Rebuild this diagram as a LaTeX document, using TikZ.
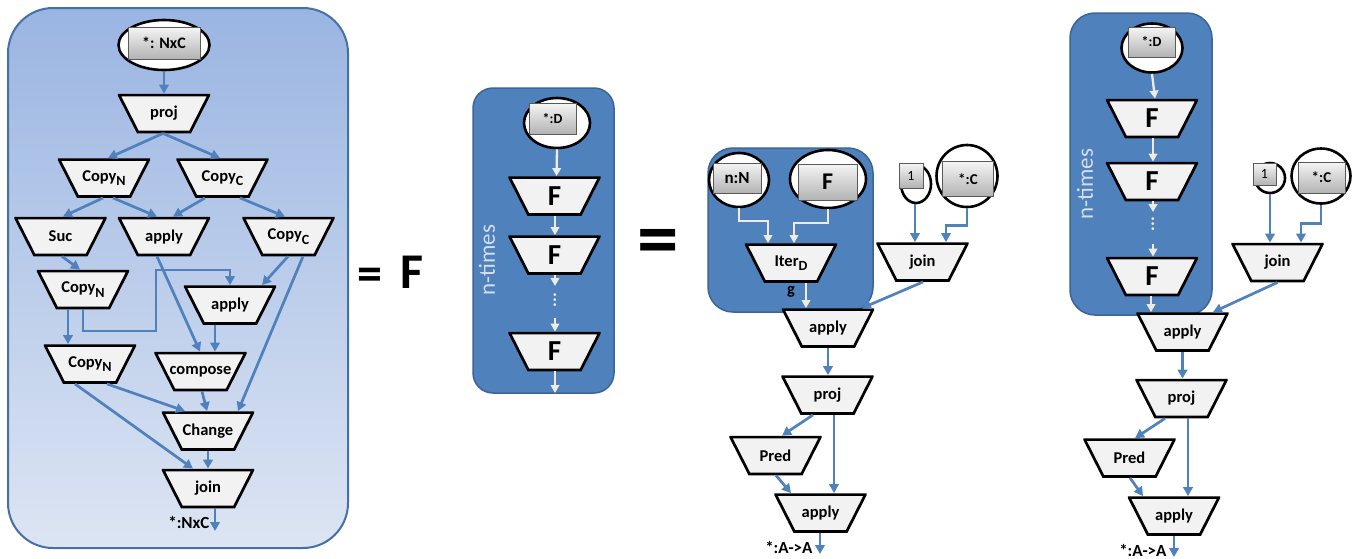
\documentclass[tikz,border=0pt]{standalone}
\usepackage{fontspec}
\setmainfont{Carlito}
\usetikzlibrary{shapes.geometric,arrows.meta}
\definecolor{lineblue}{HTML}{4F81BD}
\definecolor{cream}{HTML}{EEECE1}
\definecolor{panelblue}{HTML}{4F81BD}
\definecolor{panelborder}{HTML}{3C6496}
\definecolor{leftborder}{HTML}{4470A5}
\definecolor{lefttop}{HTML}{9AB5E2}
\definecolor{leftbot}{HTML}{DDE5F3}
\definecolor{trapfill}{HTML}{F2F2F2}
\definecolor{ntimes}{HTML}{D5DEEC}
\newcommand\trapfont{\fontsize{16.5}{18}\selectfont\bfseries}
\newcommand\lowsub[1]{\raisebox{-4.5pt}{\fontsize{14}{14}\selectfont #1}}
\tikzset{
  trap/.style={rectangle, inner sep=0pt, minimum width=92.4pt, minimum height=39.4pt, font=\trapfont,
    path picture={\draw[line width=2.7pt, fill=trapfill]
      ([shift={(1.3pt,-1.3pt)}]path picture bounding box.north west) --
      ([shift={(-1.3pt,-1.3pt)}]path picture bounding box.north east) --
      ([shift={(-20pt,1.3pt)}]path picture bounding box.south east) --
      ([shift={(20pt,1.3pt)}]path picture bounding box.south west) -- cycle;}},
  bigF/.style={font=\fontsize{29}{31}\selectfont\bfseries},
  inell/.style={ellipse, draw=black, line width=2.6pt, fill=white, inner sep=0pt},
  btn/.style={rectangle, draw=black!65, line width=0.8pt, top color=black!4, bottom color=black!30, inner sep=0pt},
  bl/.style={draw=lineblue, line width=2.7pt, -{Triangle[length=9pt,width=9.5pt]}},
  cr/.style={draw=cream, line width=2.3pt, -{Triangle[length=8pt,width=8.5pt]}},
  ntext/.style={rotate=90, text=ntimes, font=\fontsize{23}{25}\selectfont},
  outlab/.style={anchor=base east, font=\fontsize{17}{19}\selectfont\bfseries},
  dotsn/.style={rotate=90, text=cream, font=\fontsize{18}{20}\selectfont\bfseries}
}
\begin{document}
\begin{tikzpicture}[x=1pt,y=-1pt]
\useasboundingbox (0,0) rectangle (1356,558);
% ---------------- left panel ----------------
\draw[rounded corners=45pt, top color=lefttop, bottom color=leftbot, draw=leftborder, line width=2pt] (8,8) rectangle (348,548);
\node[inell, minimum width=91pt, minimum height=50pt] (inA) at (164,45) {};
\node[btn, minimum width=72pt, minimum height=32pt, font=\fontsize{16}{18}\selectfont\bfseries] (inAb) at (164,43) {*: NxC};
\node[trap] (proj) at (164,113.5) {proj};
\node[trap] (cn1) at (104,178) {Copy\lowsub{N}};
\node[trap] (cc1) at (222.5,178) {Copy\lowsub{C}};
\node[trap] (suc) at (60.5,236.5) {Suc};
\node[trap] (ap1) at (164,236.5) {apply};
\node[trap] (cc2) at (288.5,236.5) {Copy\lowsub{C}};
\node[trap] (cn2) at (83,289.5) {Copy\lowsub{N}};
\node[trap] (ap2) at (230,305) {apply};
\node[trap] (cn3) at (90,364) {Copy\lowsub{N}};
\node[trap] (comp) at (200.5,371.5) {compose};
\node[trap] (chg) at (208,431) {Change};
\node[trap] (join) at (208,488.5) {join};
\coordinate (e1) at (156,331);
\coordinate (e2) at (156,270);
\coordinate (oA) at (215,531);
\draw[bl] (inA.south) -- (proj.north);
\draw[bl] ([xshift=-1pt]proj.south) -- ([xshift=4pt]cn1.north);
\draw[bl] ([xshift=-1pt]proj.south) -- ([xshift=-2.5pt]cc1.north);
\draw[bl] ([xshift=-1pt]cn1.south) -- ([xshift=2.5pt]suc.north);
\draw[bl] ([xshift=9pt]cn1.south) -- ([xshift=-7pt]ap1.north);
\draw[bl] ([xshift=-17.5pt]cc1.south) -- ([xshift=9pt]ap1.north);
\draw[bl] ([xshift=17.5pt]cc1.south) -- ([xshift=-3.5pt]cc2.north);
\draw[bl] ([xshift=1.5pt]suc.south) -- ([xshift=-3pt]cn2.north);
\draw[bl] ([xshift=-7pt]ap1.south) -- ([xshift=-0.5pt]comp.north);
\draw[bl] ([xshift=-0.5pt]cc2.south) -- ([xshift=32pt]ap2.north);
\draw[bl] ([xshift=14.5pt]cc2.south) -- ([xshift=30pt]chg.north);
\draw[bl] ([xshift=-15pt]cn2.south) -- ([xshift=-22pt]cn3.north);
\draw[bl] (cn2.south) |- (e1) -- (e2) -| (ap2.north);
\draw[bl] ([xshift=-15pt]ap2.south) -- ([xshift=14.5pt]comp.north);
\draw[bl] ([xshift=17pt]cn3.south) -- ([xshift=-23pt]chg.north);
\draw[bl] ([xshift=-15pt]cn3.south) -- ([xshift=-15pt]join.north);
\draw[bl] ([xshift=1.5pt]comp.south) -- ([xshift=-1pt]chg.north);
\draw[bl] (chg.south) -- (join.north);
\draw[bl] ([xshift=7pt]join.south) -- (oA);
\node[outlab] (labA) at (213,528) {*:NxC};
% ---------------- = F ----------------
\node[anchor=base, font=\fontsize{50}{52}\selectfont\bfseries] (eqA) at (370,290) {=};
\node[anchor=base, font=\fontsize{50}{52}\selectfont\bfseries] (bigFA) at (412,288) {F};
% ---------------- middle panel ----------------
\draw[rounded corners=20pt, fill=panelblue, draw=panelborder, line width=1.5pt] (473,88) rectangle (614,393);
\node[ntext] (ntA) at (487,260) {n-times};
\node[inell, minimum width=66pt, minimum height=50pt] (inD) at (557,123) {};
\node[btn, minimum width=47pt, minimum height=31pt, font=\fontsize{14}{16}\selectfont\bfseries] (inDb) at (552.5,118.5) {*:D};
\node[trap, bigF] (f1) at (554.5,196) {F};
\node[trap, bigF] (f2) at (554.5,255) {F};
\node[trap, bigF] (f3) at (554.5,351.5) {F};
\node[dotsn] (dA) at (555,300) {...};
\coordinate (m1) at (555,286);
\coordinate (m2) at (555,318);
\coordinate (m3) at (555,393);
\draw[cr] (inD.south) -- ([xshift=2pt]f1.north);
\draw[cr] ([xshift=0.5pt]f1.south) -- ([xshift=0.5pt]f2.north);
\draw[cr] ([xshift=0.5pt]f2.south) -- (m1);
\draw[cr] (m2) -- ([xshift=0.5pt]f3.north);
\draw[cr] ([xshift=0.5pt]f3.south) -- (m3);
% ---------------- big = ----------------
\node[anchor=base, font=\fontsize{83}{85}\selectfont\bfseries] (eqB) at (658.5,266) {=};
% ---------------- panel 3 ----------------
\draw[rounded corners=25pt, fill=panelblue, draw=panelborder, line width=1.5pt] (708,148) rectangle (873,312);
\node[inell, minimum width=60pt, minimum height=54pt] (nN) at (739,180) {};
\node[btn, minimum width=48pt, minimum height=30pt, font=\fontsize{17}{19}\selectfont\bfseries] (nNb) at (737,178) {n:N};
\node[inell, minimum width=76pt, minimum height=58pt] (Fe) at (828,179) {};
\node[btn, minimum width=59pt, minimum height=36pt, font=\fontsize{24}{26}\selectfont\bfseries] (Feb) at (827.5,182) {F};
\node[trap] (iter) at (791,263) {Iter\lowsub{D}};
\node[font=\trapfont] (gA) at (791,292) {g};
\node[inell, minimum width=30pt, minimum height=38pt] (one) at (916,184) {};
\node[btn, minimum width=24pt, minimum height=25pt, font=\fontsize{14}{16}\selectfont] (oneb) at (911,175.5) {1};
\node[inell, minimum width=61pt, minimum height=62pt] (cC) at (967,176) {};
\node[btn, minimum width=51pt, minimum height=35pt, font=\fontsize{15}{17}\selectfont\bfseries] (cCb) at (968,179) {*:C};
\node[trap] (joinB) at (922.5,262) {join};
\node[trap] (apA) at (828,328) {apply};
\node[trap] (projB) at (827.5,395) {proj};
\node[trap] (predB) at (775.5,455.5) {Pred};
\node[trap] (apB) at (820.5,513) {apply};
\coordinate (oB) at (820,554);
\draw[cr] (nN.south) -- ++(0,13) -| ([xshift=-23pt]iter.north);
\draw[cr] (Fe.south) -- ++(0,14) -| ([xshift=3pt]iter.north);
\draw[cr] ([xshift=15pt]iter.south) -- ([xshift=-22pt]apA.north);
\draw[bl] ([xshift=-1pt]one.south) -- ([xshift=-7.5pt]joinB.north);
\draw[bl] (cC.south) -- ++(0,17) -| ([xshift=23.5pt]joinB.north);
\draw[bl] ([xshift=0.5pt]joinB.south) -- ([xshift=34pt]apA.north);
\draw[bl] (apA.south) -- (apA.south |- projB.north);
\draw[bl] ([xshift=-14.5pt]projB.south) -- ([xshift=6.5pt]predB.north);
\draw[bl] ([xshift=6.5pt]projB.south) -- ([xshift=13.5pt]apB.north);
\draw[bl] ([xshift=0.5pt]predB.south) -- ([xshift=-29.5pt]apB.north);
\draw[bl] ([xshift=-0.5pt]apB.south) -- (oB);
\node[outlab] (labB) at (816,553) {*:A->A};
% ---------------- panel 4 ----------------
\draw[rounded corners=25pt, fill=panelblue, draw=panelborder, line width=1.5pt] (1070,13) rectangle (1212,315);
\node[ntext] (ntB) at (1085,184) {n-times};
\node[inell, minimum width=61pt, minimum height=49pt] (inD2) at (1152,48) {};
\node[btn, minimum width=47pt, minimum height=30pt, font=\fontsize{14}{16}\selectfont\bfseries] (inD2b) at (1151.5,42) {*:D};
\node[trap, bigF] (g1) at (1152,118.5) {F};
\node[trap, bigF] (g2) at (1152,181.5) {F};
\node[trap, bigF] (g3) at (1152,276.5) {F};
\node[dotsn] (dB) at (1153,224) {...};
\coordinate (n1) at (1153,212);
\coordinate (n2) at (1153,244);
\node[inell, minimum width=30pt, minimum height=30pt] (one2) at (1270,178) {};
\node[btn, minimum width=23pt, minimum height=22pt, font=\fontsize{14}{16}\selectfont] (one2b) at (1264.5,174) {1};
\node[inell, minimum width=59pt, minimum height=55pt] (cC2) at (1321,176) {};
\node[btn, minimum width=47pt, minimum height=31pt, font=\fontsize{15}{17}\selectfont\bfseries] (cC2b) at (1321.5,177.5) {*:C};
\node[trap] (joinC) at (1277.5,262.5) {join};
\node[trap] (apC) at (1182.5,332) {apply};
\node[trap] (projC) at (1181.5,398.5) {proj};
\node[trap] (predC) at (1129.5,458) {Pred};
\node[trap] (apD) at (1174,516) {apply};
\coordinate (oC) at (1174,557);
\draw[cr] (inD2.south) -- ([xshift=3pt]g1.north);
\draw[cr] ([xshift=1pt]g1.south) -- ([xshift=1pt]g2.north);
\draw[cr] ([xshift=1pt]g2.south) -- (n1);
\draw[cr] (n2) -- ([xshift=1pt]g3.north);
\draw[cr] ([xshift=-1pt]g3.south) -- ([xshift=-31.5pt]apC.north);
\draw[bl] (one2.south) -- ([xshift=-7.5pt]joinC.north);
\draw[bl] (cC2.south) -- ++(0,19) -| ([xshift=23.5pt]joinC.north);
\draw[bl] (joinC.south) -- ([xshift=30.5pt]apC.north);
\draw[bl] (apC.south) -- (apC.south |- projC.north);
\draw[bl] ([xshift=-16.5pt]projC.south) -- ([xshift=5.5pt]predC.north);
\draw[bl] ([xshift=6.5pt]projC.south) -- ([xshift=14pt]apD.north);
\draw[bl] ([xshift=0.5pt]predC.south) -- ([xshift=-31pt]apD.north);
\draw[bl] (apD.south) -- (oC);
\node[outlab] (labC) at (1170,556) {*:A->A};
\end{tikzpicture}
\end{document}
